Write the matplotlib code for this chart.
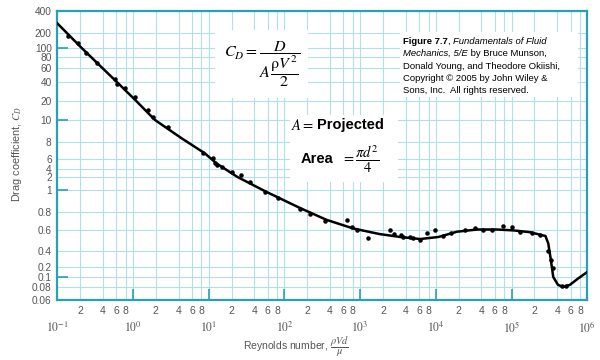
import numpy as np
import matplotlib
matplotlib.use('Agg')
import matplotlib.pyplot as plt
from matplotlib.patches import Rectangle
from matplotlib.ticker import FixedLocator, FixedFormatter, NullFormatter

plt.rcParams['font.family'] = ['Liberation Sans', 'DejaVu Sans']
plt.rcParams['mathtext.fontset'] = 'stix'

# smooth curve through the data (Re, C_D)
curve_re = [0.1, 0.21, 0.58, 1.06, 1.95, 4.4, 8.9, 12.7, 24, 58, 160, 360, 810,
            1800, 3400, 6200, 1.08e4, 1.9e4, 3.5e4, 6.4e4, 1.05e5, 1.75e5, 2.8e5,
            3.05e5, 3.3e5, 3.55e5, 4.1e5, 4.8e5, 5.9e5, 7.6e5, 1e6]
curve_cd = [270, 100, 42, 21, 10, 8.3, 6.6, 5.0, 2.0, 0.98, 0.83, 0.70, 0.61,
            0.55, 0.52, 0.50, 0.52, 0.575, 0.60, 0.60, 0.59, 0.57, 0.53,
            0.46, 0.27, 0.10, 0.084, 0.080, 0.084, 0.097, 0.14]

# measured points
re_pts = [0.14, 0.19, 0.24, 0.33, 0.58, 0.61, 0.78, 1.06, 1.6, 1.85,
          2.9, 8.5, 11.5, 12, 12.7, 15, 20, 27, 35, 55,
          83, 160, 220, 340, 670, 770, 900, 1280, 2500, 2800,
          3500, 3700, 4600, 5000, 6200, 7600, 9700, 1.25e4, 1.6e4, 2.4e4,
          3.3e4, 4.2e4, 5.5e4, 7.8e4, 1.0e5, 1.3e5, 1.85e5, 2.4e5, 3.05e5, 3.3e5,
          3.5e5, 4.6e5, 5.3e5]
cd_pts = [174, 124, 88, 68, 44, 37, 32, 23, 14.4, 11.3,
          9.3, 6.6, 6.1, 5.0, 4.7, 4.4, 3.2, 2.4, 1.56, 0.98,
          0.92, 0.82, 0.77, 0.69, 0.70, 0.62, 0.60, 0.51, 0.59, 0.55,
          0.54, 0.52, 0.52, 0.51, 0.49, 0.56, 0.59, 0.53, 0.56, 0.59,
          0.61, 0.59, 0.59, 0.63, 0.62, 0.575, 0.56, 0.54, 0.40, 0.27,
          0.18, 0.081, 0.082]

ytick_vals = [0.06, 0.08, 0.1, 0.2, 0.4, 0.6, 0.8, 1, 2, 4, 6, 8, 10,
              20, 40, 60, 80, 100, 200, 400]
ytick_labels = ['0.06', '0.08', '0.1', '0.2', '0.4', '0.6', '0.8', '1', '2', '4',
                '6', '8', '10', '20', '40', '60', '80', '100', '200', '400']
# the original chart's y axis is unevenly stretched: height (px above the
# bottom frame) of every labelled grid line
grid_h = [0, 12.5, 22.5, 32.8, 48.8, 70, 88, 109.5, 122.5, 130.5, 140.5,
          157.5, 179.5, 198.5, 217.5, 231.5, 242.5, 251.5, 266.5, 288.8]
log_vals = np.log10(ytick_vals)


def y_fwd(v):
    v = np.clip(np.asarray(v, dtype=float), 1e-9, None)
    return np.interp(np.log10(v), log_vals, grid_h)


def y_inv(h):
    return 10 ** np.interp(h, grid_h, log_vals)


teal = '#26a2b2'
gridc = '#b3dfe7'
gray = '#555555'

W, H = 600, 360
fig = plt.figure(figsize=(6, 3.6), dpi=100)
ax = fig.add_axes([57.3 / W, 1 - 299.5 / H, 530 / W, 288.8 / H])


def px(x, y):
    return x / W, 1 - y / H


ax.set_xscale('log')
ax.set_yscale('function', functions=(y_fwd, y_inv))
ax.set_xlim(0.1, 1e6)
ax.set_ylim(0.06, 400)

ax.plot(curve_re, curve_cd, color='black', lw=1.8, zorder=4)
ax.scatter(re_pts, cd_pts, s=5, color='black', zorder=5)

# y axis ticks and grid
ax.yaxis.set_major_locator(FixedLocator(ytick_vals))
ax.yaxis.set_major_formatter(FixedFormatter(ytick_labels))
ax.yaxis.set_minor_locator(FixedLocator([0.1, 1, 10, 100]))
ax.yaxis.set_minor_formatter(NullFormatter())
ax.yaxis.remove_overlapping_locs = False
ax.tick_params(axis='y', which='major', length=0, pad=4, labelsize=7.3, labelcolor=gray)
ax.tick_params(axis='y', which='minor', direction='in', length=8, width=1.2, color=teal)

# x axis ticks and grid
decades = [10.0 ** k for k in range(-1, 7)]
dec_labels = ['$10^{%d}$' % k for k in range(-1, 7)]
minors = [m * 10.0 ** k for k in range(-1, 6) for m in (2, 4, 6, 8)]
minor_labels = [str(m) for k in range(-1, 6) for m in (2, 4, 6, 8)]
ax.xaxis.set_major_locator(FixedLocator(decades))
ax.xaxis.set_major_formatter(FixedFormatter(dec_labels))
ax.xaxis.set_minor_locator(FixedLocator(minors))
ax.xaxis.set_minor_formatter(FixedFormatter(minor_labels))
ax.tick_params(axis='x', which='major', direction='in', length=8, width=1.2,
               color=teal, pad=15, labelsize=8.5, labelcolor=gray)
ax.tick_params(axis='x', which='minor', length=0, pad=5, labelsize=7.5, labelcolor=gray)

ax.set_axisbelow(True)
ax.grid(True, axis='x', which='both', color=gridc, lw=0.8)
ax.grid(True, axis='y', which='major', color=gridc, lw=0.8)
for s in ax.spines.values():
    s.set_color(teal)
    s.set_linewidth(1.6)

fig.text(*px(17, 154), r'Drag coefficient, $C_D$', rotation=90, ha='center',
         va='center', fontsize=7.8, color=gray)
fig.text(*px(296, 347), r'Reynolds number, $\dfrac{\rho Vd}{\mu}$', ha='center',
         va='center', fontsize=7.5, color=gray)

# white boxes behind the annotations
for (x0, y0, x1, y1) in [(215, 30, 308, 98), (290, 115, 398, 182), (400, 32, 578, 97)]:
    ax.add_patch(Rectangle(px(x0, y1), (x1 - x0) / W, (y1 - y0) / H,
                           transform=fig.transFigure, facecolor='white',
                           edgecolor='none', zorder=1, clip_on=False))

fig.text(*px(262, 64), r'$C_D = \dfrac{D}{A\,\dfrac{\mathrm{\rho} V^2}{2}}$',
         ha='center', va='center', fontsize=11.5)
fig.text(*px(291, 125), r'$A=$', ha='left', va='center', fontsize=10.5)
fig.text(*px(317, 125), 'Projected', ha='left', va='center', fontsize=10.5,
         weight='bold')
fig.text(*px(301, 159), 'Area', ha='left', va='center', fontsize=10.5, weight='bold')
fig.text(*px(341, 159), r'$= \dfrac{\pi d^2}{4}$', ha='left', va='center',
         fontsize=10.5)

# figure credit, mixed styles
fs = 6.8
l1 = fig.text(*px(403, 44), 'Figure 7.7', weight='bold', fontsize=fs, va='baseline')
l1b = ax.annotate(', ', xy=(1, 0), xycoords=l1, va='bottom', fontsize=fs,
                  annotation_clip=False)
ax.annotate('Fundamentals of Fluid', xy=(1, 0), xycoords=l1b, va='bottom',
            fontsize=fs, style='italic', annotation_clip=False)
l2 = fig.text(*px(403, 56.3), 'Mechanics, 5/E', style='italic', fontsize=fs,
              va='baseline')
ax.annotate(' by Bruce Munson,', xy=(1, 0), xycoords=l2, va='bottom',
            fontsize=fs, annotation_clip=False)
for i, line in enumerate(['Donald Young, and Theodore Okiishi,',
                          'Copyright \u00a9 2005 by John Wiley &',
                          'Sons, Inc.  All rights reserved.']):
    fig.text(*px(403, 68.6 + 12.3 * i), line, fontsize=fs, va='baseline')

fig.savefig('out.png', dpi=100)
